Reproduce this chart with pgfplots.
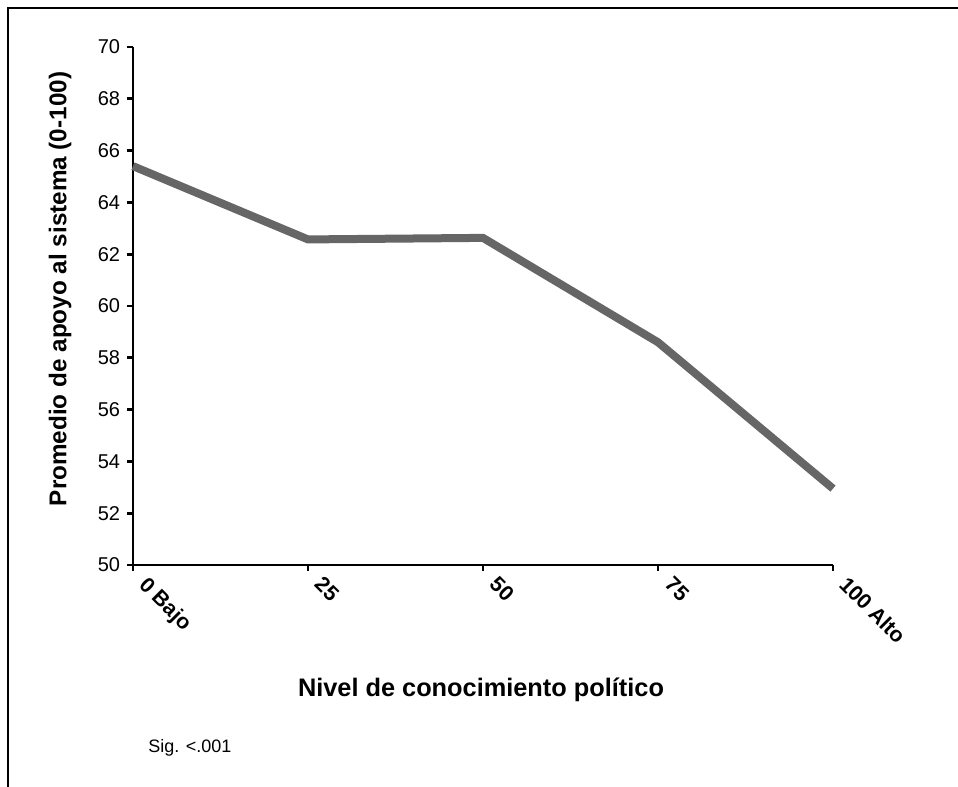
\documentclass[border=0pt]{standalone}
\usepackage{fontspec}
\setmainfont{Liberation Sans}
\usepackage{pgfplots}
\pgfplotsset{compat=1.18}
\definecolor{linegray}{HTML}{666666}
\begin{document}
\begin{tikzpicture}
% page = 958 x 787 px, 1px = 0.75pt
\begin{scope}[x=0.75pt,y=-0.75pt]
\path[use as bounding box] (0,0) rectangle (958,787);
\draw[line width=0.9pt] (8,787) -- (8,8) -- (958,8);
\node[font=\bfseries\fontsize{18.2}{20}\selectfont, rotate=90] at (60,289) {Promedio de apoyo al sistema (0-100)};
\node[font=\bfseries\fontsize{19}{21}\selectfont] at (481,690) {Nivel de conocimiento político};
\node[font=\fontsize{13.5}{15}\selectfont, anchor=west, inner sep=0pt] at (148,748) {Sig. <.001};
\end{scope}
\begin{axis}[
  at={(99.75pt,-423.75pt)}, anchor=south west,
  scale only axis, width=525pt, height=388.5pt,
  xmin=0, xmax=100, ymin=50, ymax=70,
  axis x line=bottom, axis y line=left,
  axis line style={-, line width=1.5pt},
  xtick={0,25,50,75,100},
  xticklabels={0 Bajo,25,50,75,100 Alto},
  ytick={50,52,...,70},
  tick align=outside,
  major tick length=4.5pt,
  tick style={black, line width=2.2pt},
  /pgf/number format/assume math mode=true,
  yticklabel style={font=\fontsize{15}{17}\selectfont, inner sep=1pt, xshift=-4pt},
  xticklabel style={font=\bfseries\fontsize{16}{18}\selectfont, rotate=-45, anchor=north west, inner sep=1pt, xshift=9.5pt, yshift=7.4pt},
  clip=false,
]
\addplot[linegray, line width=6pt] coordinates {
  (0,65.4) (25,62.57) (50,62.63) (75,58.6) (100,52.95)
};
\end{axis}
\end{tikzpicture}
\end{document}
